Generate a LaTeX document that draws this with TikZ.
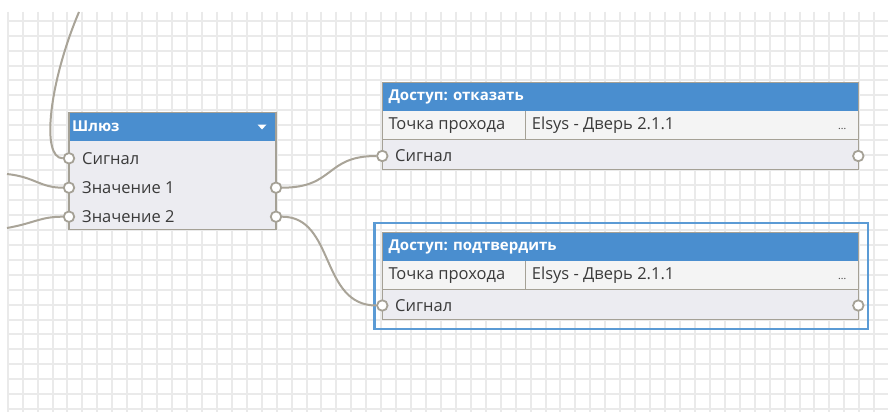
\documentclass[tikz,border=0pt]{standalone}
\usepackage{fontspec}
\setmainfont{Open Sans}
\definecolor{gridc}{HTML}{EAEAEA}
\definecolor{hdr}{HTML}{4A8ECF}
\definecolor{bodyc}{HTML}{ECECF1}
\definecolor{rowc}{HTML}{F4F4F4}
\definecolor{brd}{HTML}{A5A196}
\definecolor{wirec}{HTML}{A9A498}
\definecolor{txt}{HTML}{3A3A3A}
\definecolor{sel}{HTML}{5B9BD5}
\tikzset{
  gridline/.style={draw=gridc, line width=2pt},
  hdrbox/.style={fill=hdr, draw=none, anchor=north west, inner sep=0, outer sep=0},
  bodybox/.style={fill=bodyc, draw=none, anchor=north west, inner sep=0, outer sep=0},
  rowbox/.style={fill=rowc, draw=none, anchor=north west, inner sep=0, outer sep=0},
  frame/.style={draw=brd, line width=1.3pt, anchor=north west, inner sep=0, outer sep=0},
  port/.style={circle, draw=brd, fill=white, line width=1.8pt, minimum size=10.5pt, inner sep=0},
  wire/.style={draw=wirec, line width=2pt},
  lbl/.style={anchor=west, inner sep=0, text=txt, font=\fontsize{16.5}{19}\selectfont},
  hlbl/.style={anchor=west, inner sep=0, text=white, font=\fontsize{15}{18}\selectfont\bfseries},
}
\begin{document}
\begin{tikzpicture}[x=1pt,y=-1pt]
\useasboundingbox (0,0) rectangle (888,412);
\fill[white] (0,0) rectangle (888,412);
% grid
\begin{scope}
\clip (7,12) rectangle (888,412);
\foreach \i in {0,...,59} \draw[gridline] ({7.7+14.94*\i},12) -- ({7.7+14.94*\i},412);
\foreach \j in {0,...,26} \draw[gridline] (7,{20.7+14.94*\j}) -- (888,{20.7+14.94*\j});
\end{scope}

% ---------- Gateway node
\node[hdrbox, minimum width=207pt, minimum height=28.4pt] (gwh) at (69,112.3) {};
\node[bodybox, minimum width=207pt, minimum height=88.6pt] (gwb) at (69,140.7) {};
\node[frame, minimum width=207pt, minimum height=117pt] (gw) at (69,112.3) {};
\node[hlbl] (gwt) at (72,126.5) {Шлюз};
\fill[white] (257.5,124.5) -- (266.5,124.5) -- (262,129.5) -- cycle;
\node[lbl] (gwl1) at (82,158.3) {Сигнал};
\node[lbl] (gwl2) at (82,187.7) {Значение 1};
\node[lbl] (gwl3) at (82,216.7) {Значение 2};
\node[port] (gwi1) at (69,158.3) {};
\node[port] (gwi2) at (69,187.7) {};
\node[port] (gwi3) at (69,216.7) {};
\node[port] (gwo1) at (276,187.7) {};
\node[port] (gwo2) at (276,216.7) {};

% ---------- Deny node
\node[hdrbox, minimum width=476pt, minimum height=28.4pt] (dh) at (382.3,82.3) {};
\node[rowbox, minimum width=476pt, minimum height=28.6pt] (dr) at (382.3,110.7) {};
\node[bodybox, minimum width=476pt, minimum height=30pt] (db) at (382.3,139.3) {};
\draw[draw=brd, line width=1.3pt] (382.3,139.3) -- (858.3,139.3);
\draw[draw=brd, line width=1.3pt] (525.7,110.7) -- (525.7,139.3);
\node[frame, minimum width=476pt, minimum height=87pt] (d) at (382.3,82.3) {};
\node[hlbl] (dt) at (388.3,96.5) {Доступ: отказать};
\node[lbl] (dl1) at (388.3,125.5) {Точка прохода};
\node[lbl] (dl2) at (531.7,125.5) {Elsys - Дверь 2.1.1};
\node[lbl, font=\fontsize{10}{12}\selectfont] (dd) at (838,129) {...};
\node[lbl] (dl3) at (395,155.5) {Сигнал};
\node[port] (di) at (382.3,156) {};
\node[port] (do) at (858.3,156) {};

% ---------- Confirm node
\node[hdrbox, minimum width=476pt, minimum height=28.4pt] (ch) at (382.3,232.3) {};
\node[rowbox, minimum width=476pt, minimum height=28.6pt] (cr) at (382.3,260.7) {};
\node[bodybox, minimum width=476pt, minimum height=30pt] (cb) at (382.3,289.3) {};
\draw[draw=brd, line width=1.3pt] (382.3,289.3) -- (858.3,289.3);
\draw[draw=brd, line width=1.3pt] (525.7,260.7) -- (525.7,289.3);
\node[frame, minimum width=476pt, minimum height=87pt] (c) at (382.3,232.3) {};
\node[hlbl] (ct) at (388.3,246.5) {Доступ: подтвердить};
\node[lbl] (cl1) at (388.3,275.5) {Точка прохода};
\node[lbl] (cl2) at (531.7,275.5) {Elsys - Дверь 2.1.1};
\node[lbl, font=\fontsize{10}{12}\selectfont] (cd) at (838,279) {...};
\node[lbl] (cl3) at (395,305.5) {Сигнал};
\node[port] (ci) at (382.3,305.5) {};
\node[port] (co) at (858.3,305.5) {};
\node[draw=sel, line width=2.4pt, anchor=north west, inner sep=0, minimum width=493.4pt, minimum height=106pt] (csel) at (373.3,221.7) {};

% ---------- wires
\coordinate (e1) at (79,12);
\coordinate (e2) at (7,174);
\coordinate (e3) at (7,228);
\draw[wire] (e1) .. controls (50,80) and (40,158.3) .. (gwi1);
\draw[wire] (e2) .. controls (35,177) and (40,187.7) .. (gwi2);
\draw[wire] (e3) .. controls (35,223) and (40,216.7) .. (gwi3);
\draw[wire] (gwo1) .. controls (335,187.7) and (325,156) .. (di);
\draw[wire] (gwo2) .. controls (335,216.7) and (320,305.5) .. (ci);
\end{tikzpicture}
\end{document}
